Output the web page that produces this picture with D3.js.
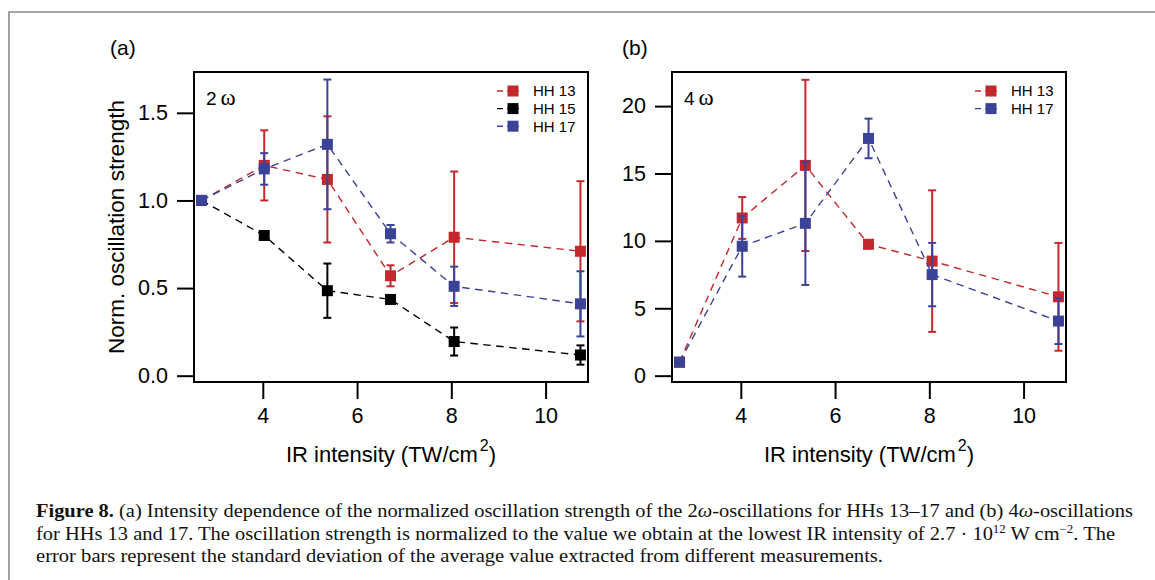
<!DOCTYPE html>
<html lang="en">
<head>
<meta charset="utf-8">
<script src="https://d3js.org/d3.v7.min.js"></script>
<style>
  body { margin: 0; background: #fff; }
</style>
</head>
<body>
<div id="fig"></div>
<script>
// IR intensity (TW/cm^2) of the measurements
const xIntensity = [2.7, 4.03, 5.37, 6.71, 8.06, 10.74];

// panel (a): 2 omega oscillations
const hh13_2w     = [1.0, 1.20, 1.12, 0.57, 0.79, 0.71];
const hh13_2w_err = [0, 0.20, 0.36, 0.06, 0.375, 0.40];
const hh15_2w     = [1.0, 0.80, 0.485, 0.435, 0.195, 0.118];
const hh15_2w_err = [0, 0.01, 0.155, 0.02, 0.08, 0.055];
const hh17_2w     = [1.0, 1.18, 1.32, 0.81, 0.51, 0.41];
const hh17_2w_err = [0, 0.09, 0.37, 0.05, 0.112, 0.186];

// panel (b): 4 omega oscillations
const hh13_4w     = [1.0, 11.7, 15.6, 9.75, 8.5, 5.85];
const hh13_4w_err = [0, 1.55, 6.35, 0.3, 5.25, 4.0];
const hh17_4w     = [1.0, 9.6, 11.3, 17.6, 7.5, 4.05];
const hh17_4w_err = [0, 2.25, 4.57, 1.47, 2.35, 1.7];

const xTicks = [4, 6, 8, 10];
const yTicksA = [0, 0.5, 1.0, 1.5];
const yTicksB = [0, 5, 10, 15, 20];

const red = "#c4282c";
const blue = "#3b4399";
const black = "#000000";

const W = 1155, H = 580;
const sans = "'Liberation Sans', Arial, Helvetica, sans-serif";
const serif = "'Liberation Serif', 'Times New Roman', serif";

var svg = d3.select("#fig").append("svg")
  .attr("width", W)
  .attr("height", H);

svg.append("rect").attr("width", W).attr("height", H).attr("fill", "#fff");

// grey figure box (only top and left edges are in view)
svg.append("path")
  .attr("d", "M9," + (H + 5) + "V12H" + (W + 5))
  .attr("fill", "none")
  .attr("stroke", "#8a8a8a")
  .attr("stroke-width", 1.6);

function drawPanel(cfg) {
  var x = d3.scaleLinear().domain([2.54, 10.9]).range([cfg.left, cfg.left + 394]);
  var y = d3.scaleLinear().domain(cfg.yDomain).range([382, 72]);

  var g = svg.append("g");

  // y axis, ticks outside
  var yAx = g.append("g")
    .attr("transform", "translate(" + cfg.left + ",0)")
    .call(d3.axisLeft(y).tickValues(cfg.yTicks).tickSize(17).tickPadding(9).tickFormat(cfg.yFormat));
  // x axis
  var xAx = g.append("g")
    .attr("transform", "translate(0,382)")
    .call(d3.axisBottom(x).tickValues(xTicks).tickSize(17).tickPadding(9).tickFormat(d3.format("d")));
  [xAx, yAx].forEach(function(a) {
    a.select(".domain").remove();
    a.selectAll("line").attr("stroke", "#000").attr("stroke-width", 2);
    a.selectAll("text").attr("fill", "#000")
      .style("font-family", sans).style("font-size", "21.5px");
  });

  // frame
  g.append("rect")
    .attr("x", cfg.left).attr("y", 72)
    .attr("width", 394).attr("height", 310)
    .attr("fill", "none").attr("stroke", "#000").attr("stroke-width", 2);

  // series
  cfg.series.forEach(function(s) {
    var pts = xIntensity.map(function(xv, i) { return {x: xv, v: s.values[i], e: s.err[i]}; });

    g.append("path")
      .datum(pts)
      .attr("fill", "none")
      .attr("stroke", s.color)
      .attr("stroke-width", 1.4)
      .attr("stroke-dasharray", "7.5,5.5")
      .attr("d", d3.line().x(function(d) { return x(d.x); }).y(function(d) { return y(d.v); }));

    var eb = g.append("g").attr("stroke", s.color).attr("stroke-width", 2)
      .selectAll("g").data(pts.filter(function(d) { return d.e > 0; })).enter().append("g");
    eb.append("line")
      .attr("x1", function(d) { return x(d.x); }).attr("x2", function(d) { return x(d.x); })
      .attr("y1", function(d) { return y(d.v - d.e); }).attr("y2", function(d) { return y(d.v + d.e); });
    eb.append("line")
      .attr("x1", function(d) { return x(d.x) - 4; }).attr("x2", function(d) { return x(d.x) + 4; })
      .attr("y1", function(d) { return y(d.v + d.e); }).attr("y2", function(d) { return y(d.v + d.e); });
    eb.append("line")
      .attr("x1", function(d) { return x(d.x) - 4; }).attr("x2", function(d) { return x(d.x) + 4; })
      .attr("y1", function(d) { return y(d.v - d.e); }).attr("y2", function(d) { return y(d.v - d.e); });

    g.append("g").selectAll("rect").data(pts).enter().append("rect")
      .attr("x", function(d) { return x(d.x) - 5.5; })
      .attr("y", function(d) { return y(d.v) - 5.5; })
      .attr("width", 11).attr("height", 11)
      .attr("fill", s.color);
  });

  // legend
  cfg.series.forEach(function(s, i) {
    var ly = 91 + i * 17.6;
    g.append("line")
      .attr("x1", cfg.legendX).attr("x2", cfg.legendX + 22)
      .attr("y1", ly).attr("y2", ly)
      .attr("stroke", s.color).attr("stroke-width", 1.4).attr("stroke-dasharray", "6,4");
    g.append("rect")
      .attr("x", cfg.legendX + 16 - 5.5).attr("y", ly - 5.5)
      .attr("width", 11).attr("height", 11).attr("fill", s.color);
    g.append("text")
      .attr("x", cfg.legendX + 36).attr("y", ly + 5.3)
      .style("font-family", sans).style("font-size", "15px")
      .text(s.name);
  });

  // "2 ω" / "4 ω" note
  var note = g.append("text").attr("x", cfg.left + 12).attr("y", 105);
  note.append("tspan").style("font-family", sans).style("font-size", "19px").text(cfg.note);
  note.append("tspan").attr("dx", 4).style("font-family", serif).style("font-size", "23px").text("ω");

  // panel letter
  g.append("text")
    .attr("x", cfg.letterX).attr("y", 55)
    .style("font-family", sans).style("font-size", "21px")
    .text(cfg.letter);

  // x label
  var xl = g.append("text")
    .attr("x", cfg.left + 197).attr("y", 462)
    .attr("text-anchor", "middle")
    .style("font-family", sans).style("font-size", "22px");
  xl.append("tspan").text("IR intensity (TW/cm");
  xl.append("tspan").attr("dy", -11).attr("dx", 2).style("font-size", "16px").text("2");
  xl.append("tspan").attr("dy", 11).text(")");

  if (cfg.yLabel) {
    g.append("text")
      .attr("transform", "translate(124,227) rotate(-90)")
      .attr("text-anchor", "middle")
      .style("font-family", sans).style("font-size", "22.5px")
      .text(cfg.yLabel);
  }
}

drawPanel({
  left: 194,
  yDomain: [-0.036, 1.733],
  yTicks: yTicksA,
  yFormat: d3.format(".1f"),
  yLabel: "Norm. oscillation strength",
  letter: "(a)", letterX: 110,
  note: "2", legendX: 497,
  series: [
    {name: "HH 13", color: red, values: hh13_2w, err: hh13_2w_err},
    {name: "HH 15", color: black, values: hh15_2w, err: hh15_2w_err},
    {name: "HH 17", color: blue, values: hh17_2w, err: hh17_2w_err}
  ]
});

drawPanel({
  left: 672,
  yDomain: [-0.47, 22.53],
  yTicks: yTicksB,
  yFormat: d3.format("d"),
  yLabel: null,
  letter: "(b)", letterX: 622,
  note: "4", legendX: 975,
  series: [
    {name: "HH 13", color: red, values: hh13_4w, err: hh13_4w_err},
    {name: "HH 17", color: blue, values: hh17_4w, err: hh17_4w_err}
  ]
});

// caption
var cap = svg.append("g").style("font-family", serif).style("font-size", "19px").attr("fill", "#111");

var l1 = cap.append("text").attr("x", 36).attr("y", 517)
  .attr("textLength", 1097).attr("lengthAdjust", "spacingAndGlyphs");
l1.append("tspan").style("font-weight", "bold").text("Figure 8.");
l1.append("tspan").text(" (a) Intensity dependence of the normalized oscillation strength of the 2");
l1.append("tspan").style("font-style", "italic").text("ω");
l1.append("tspan").text("-oscillations for HHs 13–17 and (b) 4");
l1.append("tspan").style("font-style", "italic").text("ω");
l1.append("tspan").text("-oscillations");

var l2 = cap.append("text").attr("x", 36).attr("y", 539.5)
  .attr("textLength", 1079).attr("lengthAdjust", "spacingAndGlyphs");
l2.append("tspan").text("for HHs 13 and 17. The oscillation strength is normalized to the value we obtain at the lowest IR intensity of 2.7 · 10");
l2.append("tspan").attr("dy", -7).style("font-size", "12px").text("12");
l2.append("tspan").attr("dy", 7).text(" W cm");
l2.append("tspan").attr("dy", -7).style("font-size", "12px").text("−2");
l2.append("tspan").attr("dy", 7).text(". The");

cap.append("text").attr("x", 36).attr("y", 562)
  .attr("textLength", 847).attr("lengthAdjust", "spacingAndGlyphs")
  .text("error bars represent the standard deviation of the average value extracted from different measurements.");
</script>
</body>
</html>
